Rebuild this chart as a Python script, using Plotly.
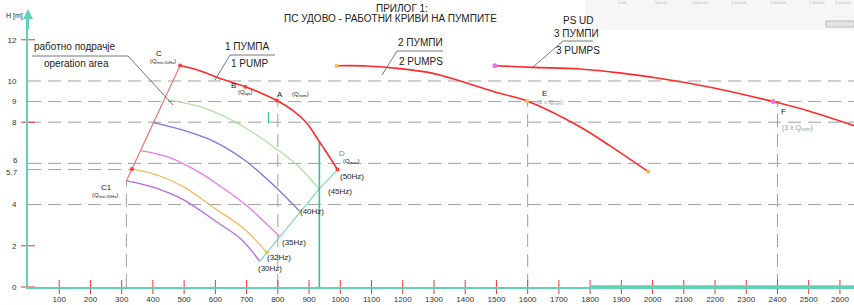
import plotly.graph_objects as go

# ---------------- data ----------------
pump1_q = [487, 550, 610, 700, 797, 850, 893, 933, 951, 991]
pump1_h = [10.75, 10.5, 10.15, 9.7, 9.05, 8.55, 7.95, 7.05, 6.65, 5.7]

pump2_q = [988, 1085, 1191, 1297, 1384, 1511, 1598, 1767, 1864, 1986]
pump2_h = [10.74, 10.73, 10.6, 10.37, 10.0, 9.4, 9.03, 7.78, 6.85, 5.6]

pump3_q = [1495, 1617, 1767, 1900, 2056, 2200, 2386, 2500, 2645]
pump3_h = [10.74, 10.66, 10.58, 10.38, 10.05, 9.65, 9.0, 8.54, 7.83]

hz45_q = [448, 550, 640, 720, 800, 870, 932]
hz45_h = [9.1, 8.75, 8.2, 7.5, 6.65, 5.8, 4.75]
hz40_q = [402, 500, 585, 690, 786, 871]
hz40_h = [7.98, 7.6, 7.14, 6.2, 4.95, 3.66]
hz35_q = [360, 450, 550, 615, 700, 806]
hz35_h = [6.62, 6.3, 5.55, 4.9, 3.95, 2.45]
hz32_q = [333, 420, 500, 600, 690, 765]
hz32_h = [5.73, 5.4, 4.85, 3.8, 2.85, 1.68]
hz30_q = [315, 400, 500, 600, 680, 742]
hz30_h = [5.15, 4.85, 4.22, 3.2, 2.35, 1.25]

qmin_line_q = [315, 487]
qmin_line_h = [5.15, 10.75]
qmax_line_q = [742, 765, 806, 871, 932, 991]
qmax_line_h = [1.25, 1.68, 2.45, 3.66, 4.75, 5.7]

limit_q = 933          # vertical green limit line
limit_h = 7.05

grid_levels = [4, 6, 8, 9, 10]
level_57 = 5.7
level_57_end_q = 333

vert_q = [315, 800, 1600, 2400]
vert_top_h = [5.15, 9.05, 9.03, 9.0]

x_ticks = list(range(100, 2700, 100))
y_ticks = [0, 2, 4, 8, 9, 10, 12]
y_close_ticks = [6, 5.7]
y_red_ticks = [0, 2, 8, 12]

pts_red_q = [487, 696, 797, 991, 333]
pts_red_h = [10.75, 9.72, 9.05, 5.7, 5.73]
pts_yel_q = [988, 1598, 1986, 765]
pts_yel_h = [10.74, 9.03, 5.6, 1.68]
pts_pink_q = [1495, 2386]
pts_pink_h = [10.74, 9.0]

artifact_labels = ["0.00", "500.00", "1,000.00", "1,500.00", "2,000.00", "2,500.00", "3,000.00"]

# ---------------- figure ----------------
FONT = "Arial, 'Liberation Sans', sans-serif"
TEAL = "#5fd3b2"
RED = "#ff2a2a"
GRAY = "#a0a0a0"

W, H = 854, 305
L, T, B = 28, 13, 18
PW, PH = W - L, H - T - B


def P(x, y):
    return (x - L) / PW, (H - B - y) / PH


fig = go.Figure()

# dashed grid (horizontal)
shapes = []
for lv in grid_levels:
    shapes.append(dict(type="line", xref="paper", yref="y", x0=0, x1=1, y0=lv, y1=lv,
                       line=dict(color=GRAY, width=1, dash="13px,7px"), layer="below"))
fig.add_trace(go.Scatter(x=[0, level_57_end_q], y=[level_57, level_57], mode="lines",
                         line=dict(color=GRAY, width=1, dash="13px,7px"), hoverinfo="skip"))
for q, h in zip(vert_q, vert_top_h):
    fig.add_trace(go.Scatter(x=[q, q], y=[0, h], mode="lines",
                             line=dict(color=GRAY, width=1, dash="13px,7px"), hoverinfo="skip"))

# frequency curves
for q, h, c in [(hz45_q, hz45_h, "#b2e0a4"), (hz40_q, hz40_h, "#7b74e6"),
                (hz35_q, hz35_h, "#e87ae8"), (hz32_q, hz32_h, "#f5bb5c"),
                (hz30_q, hz30_h, "#b46ae6")]:
    fig.add_trace(go.Scatter(x=q, y=h, mode="lines", line=dict(color=c, width=1.3, shape="spline"),
                             hoverinfo="skip"))

# operating area boundaries
fig.add_trace(go.Scatter(x=qmin_line_q, y=qmin_line_h, mode="lines",
                         line=dict(color="#f26a6a", width=1.1), hoverinfo="skip"))
fig.add_trace(go.Scatter(x=qmax_line_q, y=qmax_line_h, mode="lines",
                         line=dict(color="#7fd8b8", width=1.2), hoverinfo="skip"))
fig.add_trace(go.Scatter(x=[limit_q, limit_q], y=[0, limit_h], mode="lines",
                         line=dict(color="#33c495", width=1.6), hoverinfo="skip", cliponaxis=False))

# pump curves
for q, h in [(pump1_q, pump1_h), (pump2_q, pump2_h), (pump3_q, pump3_h)]:
    fig.add_trace(go.Scatter(x=q, y=h, mode="lines", line=dict(color=RED, width=1.6, shape="spline"),
                             hoverinfo="skip"))

# points
fig.add_trace(go.Scatter(x=pts_red_q, y=pts_red_h, mode="markers",
                         marker=dict(color="#ff3b3b", size=4), hoverinfo="skip"))
fig.add_trace(go.Scatter(x=pts_yel_q, y=pts_yel_h, mode="markers",
                         marker=dict(color="#f7c24a", size=4), hoverinfo="skip"))
fig.add_trace(go.Scatter(x=pts_pink_q, y=pts_pink_h, mode="markers",
                         marker=dict(color="#f46fd6", size=5), hoverinfo="skip"))

# red crossing ticks
fig.add_trace(go.Scatter(x=x_ticks, y=[0] * len(x_ticks), mode="markers", cliponaxis=False,
                         marker=dict(symbol="line-ns", size=10, line=dict(color="#ee3333", width=1)),
                         hoverinfo="skip"))
fig.add_trace(go.Scatter(x=[0] * len(y_red_ticks), y=y_red_ticks, mode="markers", cliponaxis=False,
                         marker=dict(symbol="line-ew", size=10, line=dict(color="#ee3333", width=1)),
                         hoverinfo="skip"))

# thicker axis part on the right
shapes.append(dict(type="line", xref="x", yref="y", x0=1800, x1=2645, y0=0, y1=0,
                   line=dict(color=TEAL, width=3.5)))
# little teal mark near A
shapes.append(dict(type="line", xref="x", yref="y", x0=770, x1=770, y0=7.95, y1=8.5,
                   line=dict(color="#33c495", width=1.2)))

# leader lines (paper coords from pixels)
def seg(p1, p2, color="#666666", width=0.9):
    x0, y0 = P(*p1)
    x1, y1 = P(*p2)
    shapes.append(dict(type="line", xref="paper", yref="paper", x0=x0, y0=y0, x1=x1, y1=y1,
                       line=dict(color=color, width=width)))

seg((32, 56), (128, 56))
seg((128, 56), (173, 105))
seg((230, 55), (275, 55))
seg((230, 55), (215, 80))
seg((397, 51), (443, 51))
seg((397, 51), (382, 75))
seg((563, 41), (593, 41))
seg((563, 41), (533, 67))

# faint artefact band top-right
bx0, by0 = P(585, 0)
bx1, by1 = P(854, 30)
shapes.append(dict(type="rect", xref="paper", yref="paper", x0=bx0, y0=by1, x1=bx1, y1=by0,
                   fillcolor="#f6f6f6", line=dict(width=0), layer="below"))
lx0, ly0 = P(826, 21)
lx1, ly1 = P(854, 27)
shapes.append(dict(type="rect", xref="paper", yref="paper", x0=lx0, y0=ly1, x1=lx1, y1=ly0,
                   fillcolor="#e4e4e4", line=dict(color="#b0b0b0", width=0.8)))

annotations = []


def txt(text, x, y, size=9, color="#222222", anchor="center"):
    px, py = P(x, y)
    annotations.append(dict(text=text, x=px, y=py, xref="paper", yref="paper", showarrow=False,
                            xanchor=anchor, yanchor="middle",
                            font=dict(size=size, color=color, family=FONT)))

txt("ПРИЛОГ 1:", 402, 8, 10)
txt("ПС УДОВО - РАБОТНИ КРИВИ НА ПУМПИТЕ", 390, 19, 10)
txt("H [m]", 15, 16, 7)
txt("работно подрачје", 75, 46, 10)
txt("operation area", 76, 63, 10)
txt("1 ПУМПА", 247, 47, 10)
txt("1 PUMP", 250, 63, 10)
txt("2 ПУМПИ", 420, 43, 10)
txt("2 PUMPS", 421, 62, 10)
txt("PS UD", 578, 21, 10)
txt("3 ПУМПИ", 576, 34, 10)
txt("3 PUMPS", 578, 50, 10)
txt("C", 159, 53, 8)
txt("(Q<sub>min,50Hz</sub>)", 163, 61, 6)
txt("B", 233, 85, 8)
txt("(Q<sub>opt</sub>)", 245, 92, 6)
txt("A", 280, 94, 8)
txt("(Q<sub>nom</sub>)", 300, 95, 6)
txt("D", 342, 153, 8, "#888888")
txt("(Q<sub>max</sub>)", 351, 162, 6)
txt("(50Hz)", 352, 176, 8)
txt("(45Hz)", 340, 192, 8)
txt("(40Hz)", 312, 211, 8)
txt("(35Hz)", 294, 242, 8)
txt("(32Hz)", 279, 257, 8)
txt("(30Hz)", 270, 268, 8)
txt("C1", 106, 187, 8)
txt("(Q<sub>min,30Hz</sub>)", 105, 195, 6)
txt("E", 544, 93, 8)
txt("(2 x Q<sub>nom</sub>)", 550, 102, 6, "#999999")
txt("F", 783, 111, 8)
txt("(3 x Q<sub>nom</sub>)", 797, 128, 7, "#999999")
for i, lab in enumerate(artifact_labels[:-1]):
    txt(lab, 622 + 39 * i, 3, 4, "#b8b8b8")
txt(artifact_labels[-1], 853, 3, 4, "#b8b8b8", anchor="right")

# y labels for the two close levels (6 and 5.7), nudged apart as in the source
for v, shift in zip(y_close_ticks, [3, -3]):
    annotations.append(dict(text=("%g" % v), x=0, y=v, xref="paper", yref="y", showarrow=False,
                            xanchor="right", yanchor="middle", xshift=-8, yshift=shift,
                            font=dict(size=8, color="#333333", family=FONT)))

# y-axis arrow
ax_, ay_ = P(28, 9)
annotations.append(dict(x=ax_, y=ay_, xref="paper", yref="paper", ax=0, ay=22, text="",
                        showarrow=True, arrowhead=2, arrowsize=1, arrowwidth=2, arrowcolor=TEAL))

fig.update_layout(
    width=W, height=H,
    margin=dict(l=L, r=0, t=T, b=B, pad=0, autoexpand=False),
    plot_bgcolor="white", paper_bgcolor="white",
    showlegend=False,
    shapes=shapes,
    annotations=annotations,
    font=dict(family=FONT, color="#333333"),
    xaxis=dict(range=[0, 2645], tickvals=x_ticks, ticktext=[str(v) for v in x_ticks],
               showgrid=False, zeroline=False, showline=True, linecolor=TEAL, linewidth=2,
               ticks="", ticklen=0, tickfont=dict(size=8, color="#333333"), ticklabelstandoff=3,
               automargin=False, fixedrange=True),
    yaxis=dict(range=[0, 13.3], tickvals=y_ticks, ticktext=["%g" % v for v in y_ticks],
               showgrid=False, zeroline=False, showline=True, linecolor=TEAL, linewidth=2,
               ticks="", ticklen=0, tickfont=dict(size=8, color="#333333"), ticklabelstandoff=8,
               automargin=False, fixedrange=True),
)

fig.write_html("out.html", config={"displayModeBar": False},
               post_script="document.body.style.margin='0';document.body.style.padding='0';"
                           "document.body.style.overflow='hidden';")
